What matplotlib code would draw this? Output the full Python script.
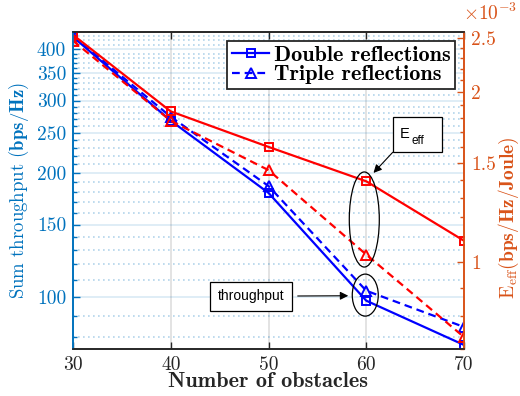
import matplotlib
matplotlib.use('Agg')
import numpy as np
import matplotlib.pyplot as plt
import matplotlib.transforms as mtransforms
from matplotlib.patches import Ellipse, Rectangle
from matplotlib.ticker import FixedLocator, NullFormatter, FuncFormatter
from matplotlib.font_manager import FontProperties

# number of obstacles vs. sum throughput / energy efficiency
n_obstacles = [30, 40, 50, 60, 70]
tput_double = [428, 268, 179, 98, 76.5]
tput_triple = [430, 274, 186, 103.6, 84.6]
eff_double = [2.53e-3, 1.85e-3, 1.60e-3, 1.39e-3, 1.09e-3]
eff_triple = [2.47e-3, 1.78e-3, 1.455e-3, 1.03e-3, 0.735e-3]

x_ticks = [30, 40, 50, 60, 70]
tput_ticks = [100, 150, 200, 250, 300, 350, 400]
eff_ticks = [1e-3, 1.5e-3, 2e-3, 2.5e-3]

C_LEFT = '#0072BD'
C_RIGHT = '#D95319'
C_AX = '#262626'

plt.rcParams['font.family'] = 'cmr10'
plt.rcParams['mathtext.fontset'] = 'cm'
plt.rcParams['axes.unicode_minus'] = False

fig = plt.figure(figsize=(5.2, 3.96), dpi=100)
ax = fig.add_axes([73/520, 47/396, 391/520, 317/396])
ax2 = ax.twinx()

# left axis: throughput, log scale
ax.set_yscale('log')
ax.set_ylim(74.8, 440)
ax.yaxis.set_major_locator(FixedLocator(tput_ticks))
ax.yaxis.set_major_formatter(FuncFormatter(lambda v, p: '%d' % v))
ax.yaxis.set_minor_locator(FixedLocator(np.arange(80, 441, 10)))
ax.yaxis.set_minor_formatter(NullFormatter())
ax.set_xlim(30, 70)
ax.set_xticks(x_ticks)

# right axis: energy efficiency, log scale
ax2.set_yscale('log')
ax2.set_ylim(0.70e-3, 2.56e-3)
ax2.yaxis.set_major_locator(FixedLocator(eff_ticks))
ax2.yaxis.set_major_formatter(FuncFormatter(lambda v, p: '%g' % (v * 1e3)))
ax2.yaxis.set_minor_locator(FixedLocator(np.arange(0.7e-3, 2.56e-3, 0.1e-3)))
ax2.yaxis.set_minor_formatter(NullFormatter())

ax.grid(which='major', axis='y', color=C_LEFT, alpha=0.15, lw=1.2)
ax.grid(which='minor', axis='y', color=C_LEFT, alpha=0.3, lw=1.2, linestyle=(0, (1, 2)))
ax.grid(which='major', axis='x', color=C_AX, alpha=0.15, lw=1.2)

ax.tick_params(axis='x', direction='in', top=True, length=5, width=1, colors=C_AX,
               labelsize=14, pad=5)
ax.tick_params(axis='y', which='both', direction='in', colors=C_LEFT, labelsize=14, width=1)
ax.tick_params(axis='y', which='major', length=5, pad=5)
ax.tick_params(axis='y', which='minor', length=3)
ax2.tick_params(axis='y', which='both', direction='in', colors=C_RIGHT, labelsize=14, width=1)
ax2.tick_params(axis='y', which='major', length=5, pad=5)
ax2.tick_params(axis='y', which='minor', length=3)

for a in (ax, ax2):
    a.spines['left'].set_color(C_LEFT)
    a.spines['right'].set_color(C_RIGHT)
    a.spines['top'].set_color(C_AX)
    a.spines['bottom'].set_color(C_AX)
    for s in a.spines.values():
        s.set_linewidth(1.2)

l1, = ax.plot(n_obstacles, tput_double, '-s', color='b', lw=1.6, ms=6, mfc='none', mew=1.4,
              label='Double reflections')
l2, = ax.plot(n_obstacles, tput_triple, '--^', color='b', lw=1.6, ms=7.5, mfc='none', mew=1.4,
              dashes=(3.5, 2.2), label='Triple reflections')
ax2.plot(n_obstacles, eff_double, '-s', color='r', lw=1.6, ms=6, mfc='none', mew=1.4)
ax2.plot(n_obstacles, eff_triple, '--^', color='r', lw=1.6, ms=7.5, mfc='none', mew=1.4,
         dashes=(3.5, 2.2))

leg = ax2.legend(handles=[l1, l2], loc='upper right',
                 prop=FontProperties(family='cmb10', size=16),
                 fancybox=False, framealpha=1, edgecolor=C_AX,
                 borderpad=0.2, handlelength=1.7, handletextpad=0.2,
                 labelspacing=0.0, borderaxespad=0.4)
leg.get_frame().set_linewidth(1.3)

ax.set_xlabel('Number of obstacles', fontfamily='cmb10', fontsize=16, color=C_AX, labelpad=-1)
ax.set_ylabel(r'Sum throughput $\mathbf{(bps/Hz)}$', color=C_LEFT, fontsize=13.5, labelpad=4)
ax2.set_ylabel(r'$\mathrm{E_{eff}}\mathbf{(bps/Hz/Joule)}$', color=C_RIGHT, fontsize=14,
               rotation=90)
ax2.yaxis.set_label_coords(1.085, 0.413)
fig.text(517/520, 1 - 20/396, r'$\times10^{-3}$', color=C_RIGHT, fontsize=14, ha='right',
         va='baseline')

# ellipses around the x=60 points, arrows from the text boxes
trans = mtransforms.blended_transform_factory(ax2.transData, ax2.transAxes)
ax2.add_patch(Ellipse((59.8, 0.4085), 3.07, 0.30, transform=trans, fill=False,
                      ec='k', lw=0.9, zorder=5))
ax2.add_patch(Ellipse((59.9, 0.170), 2.66, 0.1325, transform=trans, fill=False,
                      ec='k', lw=0.9, zorder=5))

ax2.add_patch(Rectangle((0.8177, 0.6205), 0.1268, 0.1105, transform=ax2.transAxes,
                        fill=True, fc='white', ec='k', lw=0.9, zorder=6))
ax2.text(0.836, 0.666, 'E', transform=ax2.transAxes, fontfamily='Liberation Sans',
         fontsize=10.5, va='baseline', zorder=7)
ax2.text(0.867, 0.646, 'eff', transform=ax2.transAxes, fontfamily='Liberation Sans',
         fontsize=8.5, va='baseline', zorder=7)
ax2.annotate('', xy=(0.7685, 0.5555), xytext=(0.8177, 0.6205), xycoords='axes fraction',
             arrowprops=dict(arrowstyle='-|>', color='k', lw=0.8, mutation_scale=12,
                             shrinkA=0, shrinkB=0), zorder=7)

ax2.text(0.4548, 0.1666, 'throughput', transform=ax2.transAxes, fontfamily='Liberation Sans',
         fontsize=10, ha='center', va='center', zorder=7,
         bbox=dict(boxstyle='square,pad=0.55', fc='white', ec='k', lw=0.9))
ax2.annotate('', xy=(0.704, 0.168), xytext=(0.5747, 0.1672), xycoords='axes fraction',
             arrowprops=dict(arrowstyle='-|>', color='k', lw=0.8, mutation_scale=12,
                             shrinkA=0, shrinkB=0), zorder=7)

fig.savefig('out.png', dpi=100)
